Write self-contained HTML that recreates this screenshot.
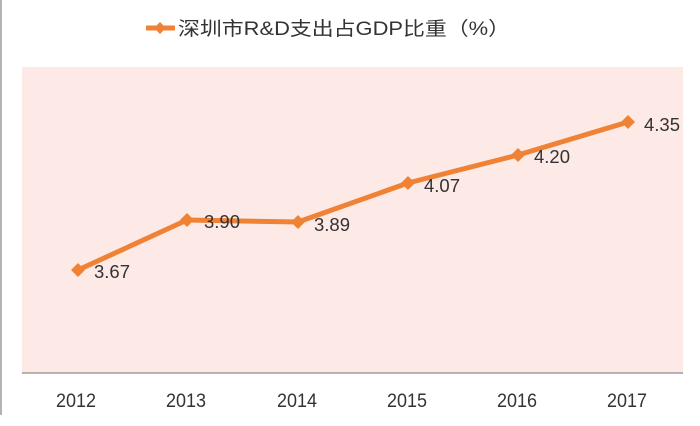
<!DOCTYPE html>
<html><head><meta charset="utf-8"><style>
body{margin:0;width:700px;height:426px;background:#fff;overflow:hidden}
svg{display:block;font-family:"Liberation Sans","Noto Sans CJK SC",sans-serif}
</style></head><body>
<svg width="700" height="426" xmlns="http://www.w3.org/2000/svg">
<line x1="1" y1="0" x2="1" y2="415" stroke="#9a9a9a" stroke-width="1.5"/>
<rect x="22" y="67" width="661" height="306" fill="#FDEAE6"/>
<line x1="22" y1="373" x2="683" y2="373" stroke="#8a8a8a" stroke-width="1.2"/>
<line x1="146" y1="28" x2="175" y2="28" stroke="#F08236" stroke-width="5"/>
<path d="M160 22 L166 28 L160 34 L154 28Z" fill="#F08236"/>
<text x="178" y="35" font-size="19" fill="#333" textLength="332" lengthAdjust="spacingAndGlyphs">深圳市R&amp;D支出占GDP比重（%）</text>
<polyline points="78,270 187,220 298,222 408,183 518,155 628,122" fill="none" stroke="#F08236" stroke-width="5" stroke-linejoin="round"/>
<g fill="#F08236">
<path d="M78 263 L85 270 L78 277 L71 270Z"/>
<path d="M187 213 L194 220 L187 227 L180 220Z"/>
<path d="M298 215 L305 222 L298 229 L291 222Z"/>
<path d="M408 176 L415 183 L408 190 L401 183Z"/>
<path d="M518 148 L525 155 L518 162 L511 155Z"/>
<path d="M628 115 L635 122 L628 129 L621 122Z"/>
</g>
<g font-size="18" fill="#333">
<text x="94" y="278" textLength="36" lengthAdjust="spacingAndGlyphs">3.67</text>
<text x="204" y="228" textLength="36" lengthAdjust="spacingAndGlyphs">3.90</text>
<text x="314" y="231" textLength="36" lengthAdjust="spacingAndGlyphs">3.89</text>
<text x="424" y="192" textLength="36" lengthAdjust="spacingAndGlyphs">4.07</text>
<text x="534" y="163" textLength="36" lengthAdjust="spacingAndGlyphs">4.20</text>
<text x="644" y="131" textLength="36" lengthAdjust="spacingAndGlyphs">4.35</text>
</g>
<g font-size="19" fill="#333" text-anchor="middle">
<text x="76" y="407" textLength="40" lengthAdjust="spacingAndGlyphs">2012</text>
<text x="186" y="407" textLength="40" lengthAdjust="spacingAndGlyphs">2013</text>
<text x="297" y="407" textLength="40" lengthAdjust="spacingAndGlyphs">2014</text>
<text x="407" y="407" textLength="40" lengthAdjust="spacingAndGlyphs">2015</text>
<text x="517" y="407" textLength="40" lengthAdjust="spacingAndGlyphs">2016</text>
<text x="627" y="407" textLength="40" lengthAdjust="spacingAndGlyphs">2017</text>
</g>
</svg>
</body></html>
